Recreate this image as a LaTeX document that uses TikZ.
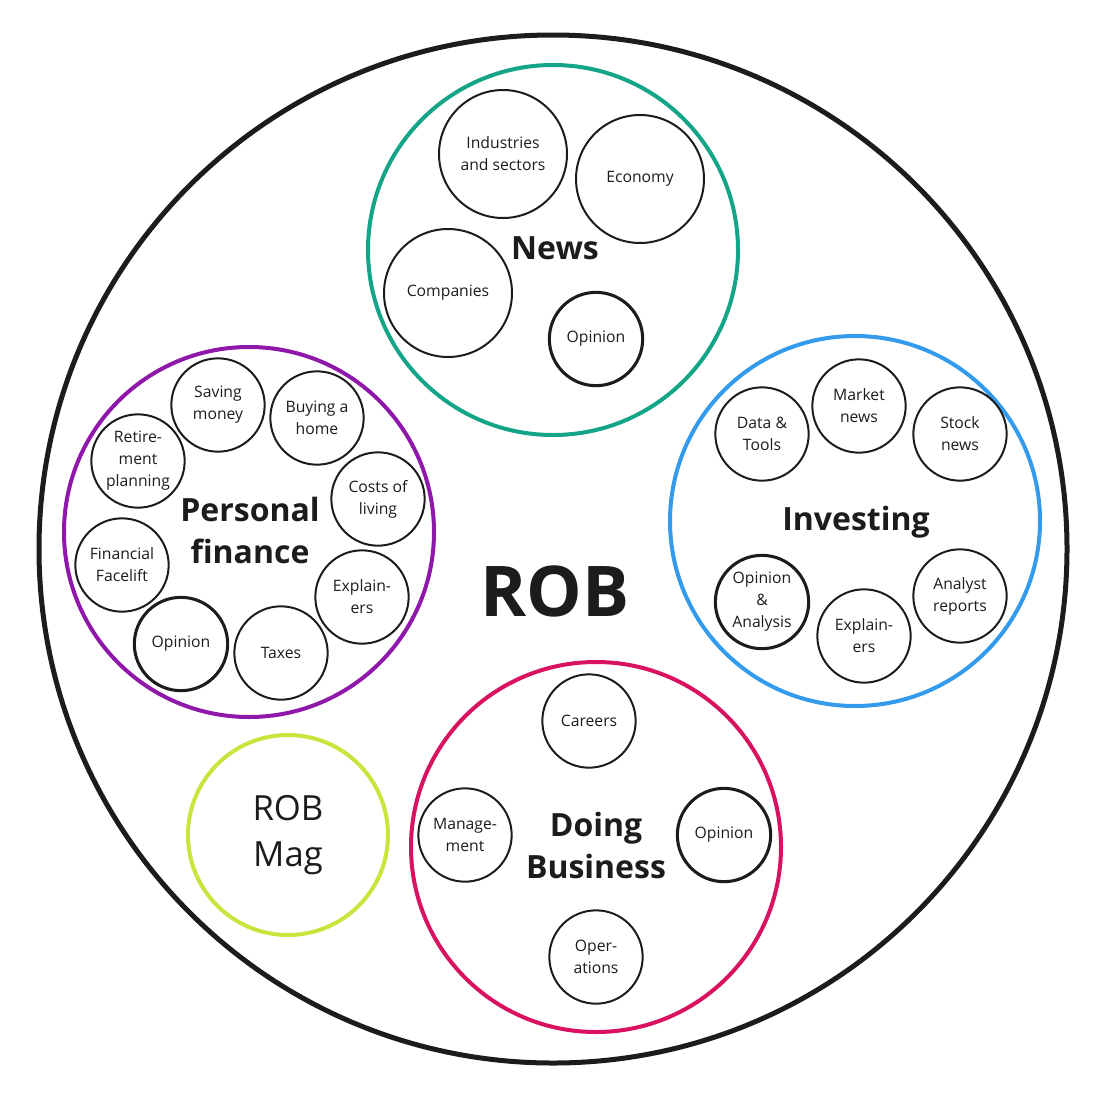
\documentclass[tikz,border=0pt]{standalone}
\usepackage{fontspec}
\setmainfont{Open Sans}
\usetikzlibrary{positioning}

\definecolor{ink}{RGB}{28,28,28}
\definecolor{newsc}{RGB}{20,164,136}
\definecolor{investc}{RGB}{52,155,236}
\definecolor{financec}{RGB}{143,24,170}
\definecolor{businessc}{RGB}{216,18,96}
\definecolor{magc}{RGB}{202,228,62}

\begin{document}
\begin{tikzpicture}[
        x=0.75pt, y=-0.75pt,
        every node/.style={text=ink},
        sub/.style={circle, draw=ink, line width=1.5pt, minimum size=70pt, inner sep=0pt, align=center, font=\fontsize{11.8}{16.5}\selectfont},
        bigsub/.style={sub, minimum size=96pt},
        opsub/.style={sub, line width=2.3pt},
        section/.style={circle, line width=3pt, minimum size=277.5pt, inner sep=0pt},
        title/.style={align=center, font=\fontsize{24}{31.5}\selectfont\bfseries}
    ]
        \useasboundingbox (0,0) rectangle (1098,1092);

% --- ROB (outer ring) ---
        \node[circle, draw=ink, line width=3.75pt, minimum size=771pt] (rob) at (553,549) {};
        \node[font=\fontsize{52.5}{60}\selectfont\bfseries] (robtitle) at (555,591) {ROB};

% --- News ---
        \node[section, draw=newsc] (news) at (553,250) {};
        \node[title] (newstitle) at (555,248) {News};
        \node[bigsub] (industries) at (503,154) {Industries\\and sectors};
        \node[bigsub] (economy) at (640,179) {Economy};
        \node[bigsub] (companies) at (448,293) {Companies};
        \node[opsub] (newsop) at (596,339) {Opinion};

% --- Investing ---
        \node[section, draw=investc] (invest) at (855,521) {};
        \node[title] (investtitle) at (856,522) {Investing};
        \node[sub] (data) at (762,434) {Data \&\\Tools};
        \node[sub] (market) at (859,406) {Market\\news};
        \node[sub] (stock) at (960,434) {Stock\\news};
        \node[opsub] (investop) at (762,602) {Opinion\\\&\\Analysis};
        \node[sub] (investexpl) at (864,636) {Explain-\\ers};
        \node[sub] (analyst) at (960,596) {Analyst\\reports};

% --- Personal finance ---
        \node[section, draw=financec] (finance) at (249,532) {};
        \node[title] (financetitle) at (250,530) {Personal\\finance};
        \node[sub] (saving) at (218,405) {Saving\\money};
        \node[sub] (buying) at (317,418) {Buying a\\home};
        \node[sub] (retire) at (138,461) {Retire-\\ment\\planning};
        \node[sub] (costs) at (378,499) {Costs of\\living};
        \node[sub] (facelift) at (122,565) {Financial\\Facelift};
        \node[sub] (financeexpl) at (362,597) {Explain-\\ers};
        \node[opsub] (financeop) at (181,644) {Opinion};
        \node[sub] (taxes) at (281,653) {Taxes};

% --- Doing Business ---
        \node[section, draw=businessc] (business) at (596,847) {};
        \node[title] (businesstitle) at (596,845) {Doing\\Business};
        \node[sub] (careers) at (589,721) {Careers};
        \node[sub] (manage) at (465,835) {Manage-\\ment};
        \node[opsub] (businessop) at (724,835) {Opinion};
        \node[sub] (ops) at (596,957) {Oper-\\ations};

% --- ROB Mag ---
        \node[circle, draw=magc, line width=3pt, minimum size=150pt, align=center, font=\fontsize{26}{35}\selectfont] (mag) at (288,835) {ROB\\Mag};

    \end{tikzpicture}
\end{document}
